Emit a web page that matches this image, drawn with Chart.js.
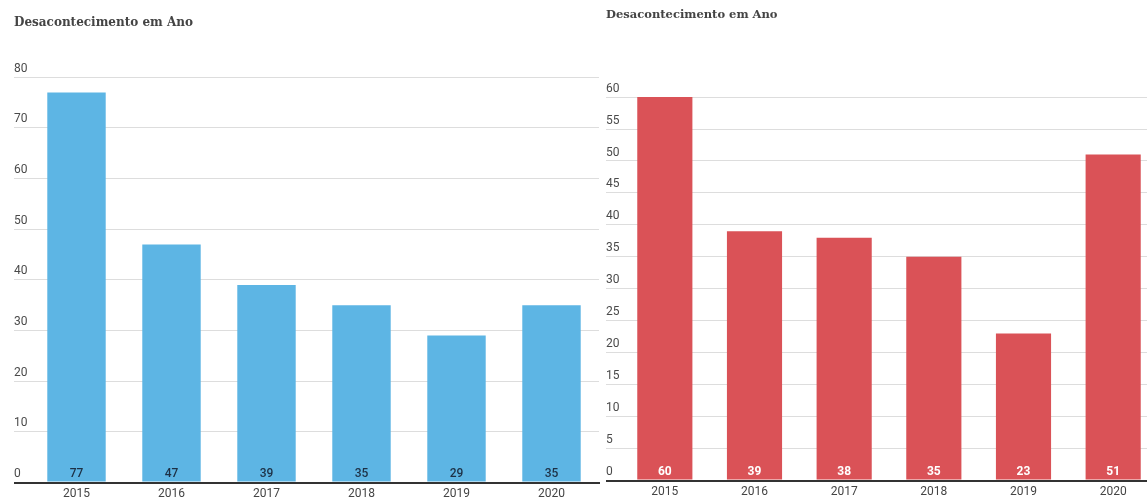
<!doctype html>
<html lang="pt">
<head>
<meta charset="utf-8">
<title>Desacontecimento em Ano</title>
<script src="https://cdn.jsdelivr.net/npm/chart.js@4/dist/chart.umd.min.js"></script>
<style>
  html, body { margin: 0; padding: 0; background: #fff; overflow: hidden; }
  body { position: relative; width: 1147px; height: 498px; }
  #chartA { position: absolute; left: 0; top: 0; }
  #chartB { position: absolute; left: 600px; top: 0; }
</style>
</head>
<body>
<canvas id="chartA" width="600" height="498"></canvas>
<canvas id="chartB" width="560" height="498"></canvas>
<script>
// data
var titleText = 'Desacontecimento em Ano';
var years = ['2015', '2016', '2017', '2018', '2019', '2020'];
var valuesLeft = [77, 47, 39, 35, 29, 35];
var valuesRight = [60, 39, 38, 35, 23, 51];

Chart.defaults.font.family = 'Roboto, "Noto Sans", sans-serif';
Chart.defaults.font.size = 12;

// draws the value at the foot of every bar
var valueLabels = {
  id: 'valueLabels',
  afterDatasetsDraw: function(chart, args, opts) {
    var ctx = chart.ctx;
    var meta = chart.getDatasetMeta(0);
    var data = chart.data.datasets[0].data;
    var base = chart.scales.y.getPixelForValue(0);
    ctx.save();
    ctx.font = opts.weight + ' 12px Roboto, sans-serif';
    ctx.fillStyle = opts.color;
    ctx.textAlign = 'center';
    ctx.textBaseline = 'middle';
    meta.data.forEach(function(bar, i) {
      ctx.fillText(String(data[i]), bar.x, base - opts.offset);
    });
    ctx.restore();
  }
};

function makeChart(id, values, color, yMax, step, cfg) {
  return new Chart(document.getElementById(id), {
    type: 'bar',
    data: {
      labels: years,
      datasets: [{
        data: values,
        backgroundColor: color,
        borderWidth: 0,
        categoryPercentage: 1,
        barPercentage: 0.615
      }]
    },
    plugins: [valueLabels],
    options: {
      responsive: false,
      animation: false,
      layout: { padding: { left: cfg.padLeft, right: cfg.padRight, top: 0, bottom: 0 } },
      plugins: {
        legend: { display: false },
        tooltip: { enabled: false },
        title: {
          display: true,
          text: titleText,
          align: 'start',
          color: '#444',
          font: { family: '"DejaVu Serif", serif', size: cfg.titleSize, weight: 'bold' },
          padding: { top: cfg.titleTop, bottom: cfg.titleBottom }
        },
        valueLabels: { color: cfg.labelColor, weight: cfg.labelWeight, offset: 9 }
      },
      scales: {
        x: {
          z: 1,
          grid: { display: false, drawTicks: false },
          border: { display: true, color: '#333', width: 2 },
          ticks: { color: '#444', padding: 4, font: { size: 12 } },
          afterFit: function(s) { s.height = cfg.xHeight; }
        },
        y: {
          min: 0,
          max: yMax,
          border: { display: false },
          grid: {
            drawTicks: true,
            tickLength: cfg.yWidth,
            color: function(c) { return c.tick && c.tick.value === 0 ? '#333' : '#ddd'; },
            lineWidth: function(c) { return c.tick && c.tick.value === 0 ? 2 : 1; }
          },
          ticks: {
            stepSize: step,
            color: '#4a4a4a',
            crossAlign: 'far',
            labelOffset: -8.5,
            padding: 0,
            font: { size: 12 }
          },
          afterFit: function(s) {
            s.width = cfg.yWidth;
            s.paddingTop = 0;
            s.paddingBottom = 0;
          }
        }
      }
    }
  });
}

makeChart('chartA', valuesLeft, '#5db5e4', 80, 10, {
  padLeft: 14, padRight: 1, yWidth: 15, xHeight: 15.5,
  titleSize: 12, titleTop: 15.5, titleBottom: 47.4,
  labelColor: '#1d3045', labelWeight: '500'
});

makeChart('chartB', valuesRight, '#da5257', 60, 5, {
  padLeft: 6, padRight: 2, yWidth: 14, xHeight: 17.5,
  titleSize: 11.5, titleTop: 8.5, titleBottom: 74.8,
  labelColor: '#ffffff', labelWeight: 'bold'
});
</script>
</body>
</html>
